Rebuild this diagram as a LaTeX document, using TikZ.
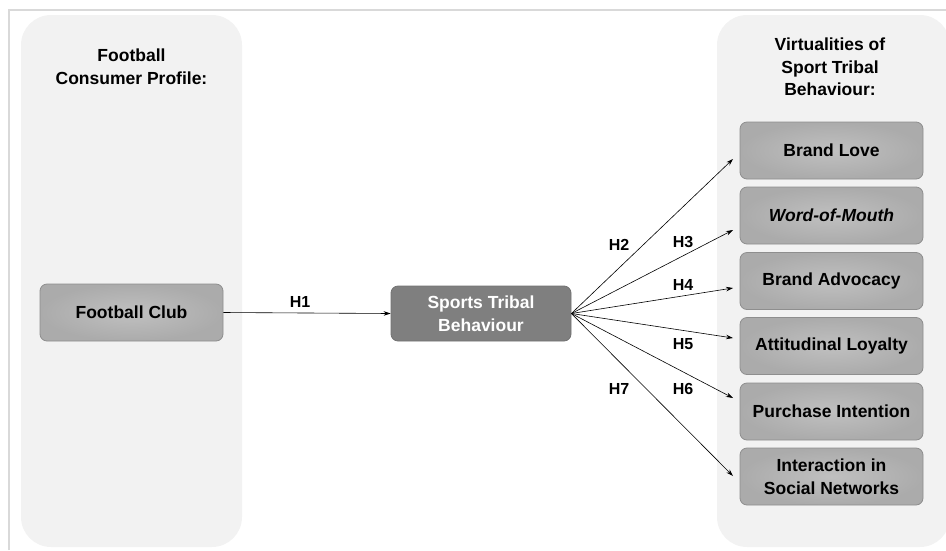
\documentclass[tikz,border=0pt]{standalone}
\usepackage{fontspec}
\setmainfont{Liberation Sans}
\usetikzlibrary{arrows.meta}
\definecolor{framegray}{HTML}{D9D9D9}
\definecolor{panelgray}{HTML}{F2F2F2}
\definecolor{boxgray}{HTML}{ABABAB}
\definecolor{boxedge}{HTML}{8E8E8E}
\definecolor{darkbox}{HTML}{7F7F7F}
\begin{document}
\begin{tikzpicture}[x=1pt,y=-1pt,
  font=\bfseries\fontsize{17.5}{22.5}\selectfont,
  panel/.style={fill=panelgray, rounded corners=30pt},
  lbox/.style={draw=boxedge, line width=0.8pt, rounded corners=7pt, inner color=boxgray!75!white, outer color=boxgray,
    minimum width=183pt, minimum height=57pt, align=center, text=black},
  dbox/.style={draw=darkbox!90!black, line width=0.8pt, rounded corners=7pt, fill=darkbox,
    minimum width=180pt, minimum height=55pt, align=center, text=white},
  conn/.style={-{Stealth[length=7pt,width=4.5pt]}, line width=0.6pt},
  hlab/.style={inner sep=0pt, font=\bfseries\fontsize{16}{19}\selectfont}
]
\useasboundingbox (0,0) rectangle (946,550);
\draw[framegray, line width=2pt] (9,550) -- (9,10) -- (946,10);
\fill[panel] (21,15) rectangle (242,547);
\fill[panel] (717,15) rectangle (950,547);

\node[align=center] (ltitle) at (131.5,66.5) {Football\\Consumer Profile:};
\node[align=center] (rtitle) at (830,67) {Virtualities of\\Sport Tribal\\Behaviour:};

\node[lbox] (fc) at (131.5,312.5) {Football Club};
\node[dbox] (stb) at (481,313.5) {Sports Tribal\\Behaviour};

\node[lbox] (bl) at (831.5,150.5) {Brand Love};
\node[lbox] (wom) at (831.5,215.5) {\itshape Word-of-Mouth};
\node[lbox] (ba) at (831.5,281) {Brand Advocacy};
\node[lbox] (al) at (831.5,346) {Attitudinal Loyalty};
\node[lbox] (pi) at (831.5,411.5) {Purchase Intention};
\node[lbox] (isn) at (831.5,476.5) {Interaction in\\Social Networks};

\coordinate (e2) at (733,159);
\coordinate (e3) at (733,230);
\coordinate (e4) at (733,288);
\coordinate (e5) at (733,338);
\coordinate (e6) at (733,398);
\coordinate (e7) at (733,476);

\draw[conn] (fc.east) -- (stb.west);
\draw[conn] (stb.east) -- (e2);
\draw[conn] (stb.east) -- (e3);
\draw[conn] (stb.east) -- (e4);
\draw[conn] (stb.east) -- (e5);
\draw[conn] (stb.east) -- (e6);
\draw[conn] (stb.east) -- (e7);

\node[hlab] (h1) at (300,302) {H1};
\node[hlab] (h2) at (619,245) {H2};
\node[hlab] (h3) at (683,242) {H3};
\node[hlab] (h4) at (683,285) {H4};
\node[hlab] (h5) at (683,344) {H5};
\node[hlab] (h6) at (683,389) {H6};
\node[hlab] (h7) at (619,389) {H7};
\end{tikzpicture}
\end{document}
